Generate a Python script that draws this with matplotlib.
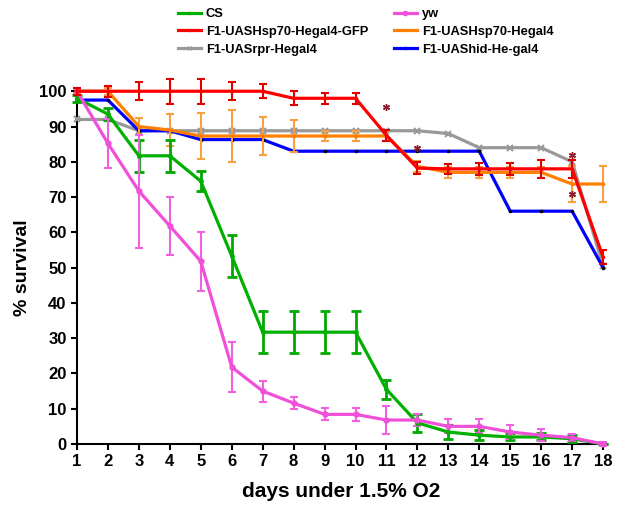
import numpy as np
import matplotlib
matplotlib.use("Agg")
import matplotlib.pyplot as plt
from matplotlib.lines import Line2D

plt.rcParams['font.family'] = ['Liberation Sans', 'DejaVu Sans']
plt.rcParams['font.weight'] = 'bold'

days = np.arange(1, 19)

cs = [98, 93.5, 81.7, 81.7, 74.5, 53.3, 31.7, 31.7, 31.7, 31.7, 15.5, 6, 3.4, 2.5, 2, 2, 1.5, 0]
cs_err = [1, 1.7, 4.5, 4.5, 2.8, 6, 6, 6, 6, 6, 2.7, 2.5, 2, 1.5, 1, 1, 1, 0]

yw = [100, 85.2, 71.7, 61.8, 51.8, 21.8, 15, 11.6, 8.4, 8.4, 6.8, 6.8, 5, 5, 3.4, 2.5, 1.8, 0]
yw_err = [1, 7, 16, 8.3, 8.3, 7, 3, 1.7, 1.7, 1.8, 4, 1.7, 2, 2, 2, 1.7, 1, 0.5]

gfp = [100, 100, 100, 100, 100, 100, 100, 98, 98, 98, 87.5, 78.2, 78, 78, 78, 78, 78, 53]
gfp_err = [1, 1.5, 2.5, 3.5, 3.5, 2.5, 2, 2, 1.5, 1.5, 1.5, 1.7, 1.5, 1.7, 1.7, 2.5, 2.5, 2]

hsp = [100, 100, 90, 89, 87.3, 87.3, 87.3, 87.3, 87.3, 87.3, 87.3, 78.7, 77, 77, 77, 77, 73.7, 73.7]
hsp_err = [0.5, 1, 2.5, 4.5, 6.5, 7.5, 5.5, 4.5, 1.5, 1.5, 1.5, 1.5, 1.5, 1.5, 1.5, 1.5, 5, 5]

rpr = [92, 92, 88.8, 88.8, 88.8, 88.8, 88.8, 88.8, 88.8, 88.8, 88.8, 88.8, 88, 84, 84, 84, 80, 50.5]

hid = [97.5, 97.5, 88.8, 88.8, 86.3, 86.3, 86.3, 83, 83, 83, 83, 83, 83, 83, 66, 66, 66, 50]

star_x = [11, 12, 17, 17]
star_y = [95.5, 84, 82, 71]

fig = plt.figure(figsize=(6.24, 5.12), dpi=100)
ax = fig.add_axes([0.1234, 0.1328, 0.848, 0.689])

lw = 2.3
ax.plot(days, rpr, color='#999999', lw=lw, marker='x', ms=4, mew=1.5, zorder=3, clip_on=False)
ax.plot(days, hid, color='#0000ff', lw=lw, marker='.', ms=3, mfc='k', mec='k', zorder=3, clip_on=False)
ax.errorbar(days, hsp, yerr=hsp_err, color='#ff8000', ecolor='#f8a040', lw=lw,
            elinewidth=1.5, capsize=3, capthick=1.5, marker='.', ms=3, zorder=4, clip_on=False)
ax.errorbar(days, gfp, yerr=gfp_err, color='#ff0000', ecolor='#e00000', lw=lw,
            elinewidth=1.5, capsize=3, capthick=1.5, marker='.', ms=3, zorder=5, clip_on=False)
ax.errorbar(days, cs, yerr=cs_err, color='#00b000', ecolor='#00a800', lw=lw,
            elinewidth=2, capsize=3.5, capthick=2, marker='.', ms=5, zorder=4, clip_on=False)
ax.errorbar(days, yw, yerr=yw_err, color='#f050d8', ecolor='#f060e0', lw=lw,
            elinewidth=1.5, capsize=3, capthick=1.5, marker='o', ms=3.5, zorder=4, clip_on=False)
ax.plot(star_x, star_y, ls='none', marker=(6, 2, 0), ms=5, color='#8b1a2a', mew=1, zorder=6)

ax.set_xlim(1, 18.1)
ax.set_ylim(0, 100)
ax.set_xticks(days)
ax.set_yticks(np.arange(0, 101, 10))
ax.tick_params(labelsize=12, width=1.5, length=4)
for lab in ax.get_xticklabels() + ax.get_yticklabels():
    lab.set_fontweight('bold')
ax.spines['top'].set_visible(False)
ax.spines['right'].set_visible(False)
ax.spines['left'].set_linewidth(1.5)
ax.spines['bottom'].set_linewidth(1.5)
ax.set_xlabel('days under 1.5% O2', fontsize=15, fontweight='bold', labelpad=9)
ax.set_ylabel('% survival', fontsize=14, fontweight='bold', labelpad=6)

# legend: column-major order for ncol=2
labels = ['CS', 'F1-UASHsp70-Hegal4-GFP', 'F1-UASrpr-Hegal4',
          'yw', 'F1-UASHsp70-Hegal4', 'F1-UAShid-He-gal4']
colors = ['#00b000', '#ff0000', '#999999', '#f050d8', '#ff8000', '#0000ff']
markers = ['.', '.', 'x', 'o', '.', '.']
handles = [Line2D([], [], color=c, lw=2.3, marker=m, ms=3, mew=1)
           for c, m in zip(colors, markers)]
fig.legend(handles, labels, ncol=2, loc='upper left',
           bbox_to_anchor=(0.2853, 0.984), frameon=False,
           handlelength=1.75, handletextpad=0.4, columnspacing=2.0,
           labelspacing=0.44, borderpad=0, borderaxespad=0,
           prop={'weight': 'bold', 'size': 9.3})

fig.savefig('out.png', dpi=100)
